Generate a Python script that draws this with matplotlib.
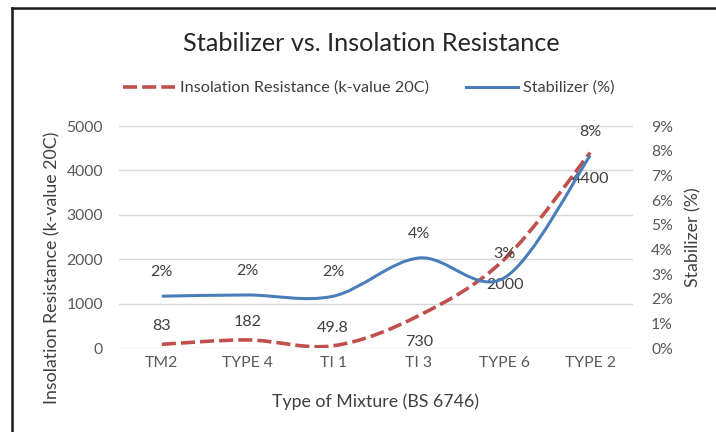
import matplotlib
matplotlib.use("Agg")
import matplotlib.pyplot as plt
from matplotlib.path import Path
from matplotlib.patches import PathPatch
from matplotlib.lines import Line2D
from matplotlib.ticker import FuncFormatter

plt.rcParams["font.family"] = ["Lato", "DejaVu Sans"]

# 数据
mixtures = ["TM2", "TYPE 4", "TI 1", "TI 3", "TYPE 6", "TYPE 2"]
resistance = [83, 182, 49.8, 730, 2000, 4400]               # k-value 20C
stabilizer = [0.021, 0.0215, 0.021, 0.0365, 0.0285, 0.078]  # 比例
resistance_labels = ["83", "182", "49.8", "730", "2000", "4400"]
stabilizer_labels = ["2%", "2%", "2%", "4%", "3%", "8%"]

RED = "#C0504D"
BLUE = "#4A7EBB"
GRID = "#D9D9D9"
TICK = "#595959"
LABEL = "#404040"

W, H, DPI = 716, 432, 100
PT = 72 / DPI  # 像素 -> 磅


def smooth_path(xs, ys):
    """Excel风格平滑线: 用三次贝塞尔曲线穿过每个点"""
    n = len(xs)
    verts = [(xs[0], ys[0])]
    codes = [Path.MOVETO]
    for i in range(n - 1):
        a = i - 1 if i > 0 else i
        b = i + 2 if i + 2 < n else i + 1
        c1 = (xs[i] + (xs[i + 1] - xs[a]) / 6, ys[i] + (ys[i + 1] - ys[a]) / 6)
        c2 = (xs[i + 1] - (xs[b] - xs[i]) / 6, ys[i + 1] - (ys[b] - ys[i]) / 6)
        verts += [c1, c2, (xs[i + 1], ys[i + 1])]
        codes += [Path.CURVE4] * 3
    return Path(verts, codes)


fig = plt.figure(figsize=(W / DPI, H / DPI), dpi=DPI)
renderer = fig.canvas.get_renderer()


def fit_size(text, width_px, base=10.0):
    """按参考图里文字的像素宽度反推字号"""
    t = fig.text(0, 0, text, fontsize=base)
    w = t.get_window_extent(renderer).width
    t.remove()
    return base * width_px / w


fs_title = fit_size("Stabilizer vs. Insolation Resistance", 378)
fs_legend = fit_size("Insolation Resistance (k-value 20C)", 248)
fs_axis = fit_size("Type of Mixture (BS 6746)", 208)
fs_tick = fit_size("5000", 36.5)
fs_data = fit_size("4400", 37.5)

# 绘图区: x 119..633, y 126..348 (像素)
ax = fig.add_axes([119 / W, 1 - 348 / H, (633 - 119) / W, (348 - 126) / H])
ax2 = ax.twinx()

x = list(range(len(mixtures)))

ax.set_xlim(-0.5, len(mixtures) - 0.5)
ax.set_ylim(0, 5000)
ax.set_yticks(range(0, 5001, 1000))
ax2.set_ylim(0, 0.09)
ax2.set_yticks([i / 100 for i in range(10)])
ax2.yaxis.set_major_formatter(FuncFormatter(lambda v, p: f"{v * 100:.0f}%"))

ax.grid(axis="y", color=GRID, linewidth=1.0)
ax.set_axisbelow(True)
for a in (ax, ax2):
    for s in a.spines.values():
        s.set_visible(False)
    a.tick_params(length=0, colors=TICK, labelsize=fs_tick)
ax.tick_params(axis="y", pad=16 * PT)
ax.tick_params(axis="x", pad=8 * PT)
ax2.tick_params(axis="y", pad=18 * PT)
ax.set_xticks(x)
ax.set_xticklabels(mixtures)

red_style = dict(color=RED, linewidth=2.6, linestyle=(0, (3.9, 1.4)))
blue_style = dict(color=BLUE, linewidth=2.2)

ax.add_patch(PathPatch(smooth_path(x, resistance), fill=False, edgecolor=RED,
                       linewidth=red_style["linewidth"], linestyle=red_style["linestyle"],
                       zorder=3))
ax2.add_patch(PathPatch(smooth_path(x, stabilizer), fill=False, edgecolor=BLUE,
                        linewidth=blue_style["linewidth"], zorder=3))

# 数据标签
red_offsets = [18, 18, 18, -26, -26, -26]
for xi, v, t, dy in zip(x, resistance, resistance_labels, red_offsets):
    ax.annotate(t, (xi, v), xytext=(0, dy), textcoords="offset pixels",
                ha="center", va="center", fontsize=fs_data, color=LABEL, zorder=5)
for xi, v, t in zip(x, stabilizer, stabilizer_labels):
    ax2.annotate(t, (xi, v), xytext=(0, 24), textcoords="offset pixels",
                 ha="center", va="center", fontsize=fs_data, color=LABEL, zorder=5)

fig.text(371 / W, 1 - 51 / H, "Stabilizer vs. Insolation Resistance", ha="center",
         va="baseline", fontsize=fs_title, color="#262626")
fig.text(52 / W, 1 - 132 / H, "Insolation Resistance (k-value 20C)", rotation=90,
         ha="center", va="top", fontsize=fs_axis, color=LABEL)
fig.text(693 / W, 1 - 187 / H, "Stabilizer (%)", rotation=90,
         ha="center", va="top", fontsize=fs_axis, color=LABEL)
fig.text(376 / W, 1 - 407 / H, "Type of Mixture (BS 6746)", ha="center", va="baseline",
         fontsize=fs_axis, color=LABEL)

unit = fs_legend / PT  # 图例字号对应的像素
handles = [Line2D([0], [0], **red_style), Line2D([0], [0], **blue_style)]
fig.legend(handles, ["Insolation Resistance (k-value 20C)", "Stabilizer (%)"],
           loc="center", bbox_to_anchor=(369 / W, 1 - 88 / H), ncol=2, frameon=False,
           fontsize=fs_legend, handlelength=52 / unit, handletextpad=5 / unit,
           columnspacing=37 / unit, labelcolor=LABEL, borderpad=0)

# 外框 (截图里只看得到上边和左边)
fig.add_artist(Line2D([12 / W, 1], [1 - 8 / H] * 2, transform=fig.transFigure,
                      color="#1a1a1a", linewidth=1.8))
fig.add_artist(Line2D([12 / W] * 2, [0, 1 - 8 / H], transform=fig.transFigure,
                      color="#1a1a1a", linewidth=1.8))

fig.savefig("out.png", dpi=DPI, facecolor="white")
